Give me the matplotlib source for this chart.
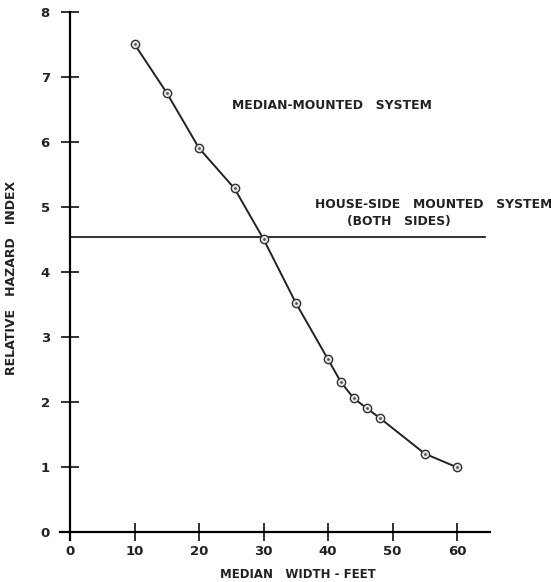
import matplotlib
matplotlib.use("Agg")
import matplotlib.pyplot as plt

# median width (ft) vs relative hazard index, median-mounted system
width_ft = [10, 15, 20, 25.5, 30, 35, 40, 42, 44, 46, 48, 55, 60]
hazard = [7.5, 6.75, 5.9, 5.28, 4.5, 3.52, 2.65, 2.3, 2.05, 1.9, 1.75, 1.2, 0.99]

# house-side mounted system (both sides), constant level
house_side_level = 4.54
house_side_span = [0, 64.3]

x_ticks = [0, 10, 20, 30, 40, 50, 60]
y_ticks = [0, 1, 2, 3, 4, 5, 6, 7, 8]

plt.rcParams['font.family'] = ['DejaVu Sans']

fig = plt.figure(figsize=(5.51, 5.82), dpi=100)
ax = fig.add_axes([0.1083, 0.073, 0.781, 0.907])

ax.plot(width_ft, hazard, color='#222222', lw=1.4, zorder=2)
ax.plot(width_ft, hazard, ls='none', marker='o', ms=6, mfc='#e6e6e6',
        mec='#333333', mew=1.0, zorder=3)
ax.plot(width_ft, hazard, ls='none', marker='o', ms=2, mfc='#555555',
        mec='none', zorder=4)

ax.plot(house_side_span, [house_side_level] * 2, color='#222222', lw=1.3)

ax.set_xlim(-1.6, 65.1)
ax.set_ylim(-0.12, 8.0)

for s in ['top', 'right']:
    ax.spines[s].set_visible(False)
ax.spines['left'].set_position(('data', 0))
ax.spines['bottom'].set_position(('data', 0))
ax.spines['left'].set_linewidth(1.6)
ax.spines['bottom'].set_linewidth(1.6)
ax.spines['left'].set_bounds(-0.12, 8.0)

ax.set_xticks(x_ticks)
ax.set_yticks(y_ticks)
ax.tick_params(axis='both', direction='inout', length=13, width=1.3,
               labelsize=9.5, colors='#222222')
ax.tick_params(axis='x', pad=3)
ax.tick_params(axis='y', pad=8)
for lab in ax.get_xticklabels() + ax.get_yticklabels():
    lab.set_fontweight('bold')

ax.text(25.1, 6.55, "MEDIAN-MOUNTED   SYSTEM", fontsize=8.9, fontweight='bold',
        va='center', ha='left', color='#222222')
ax.text(38.0, 5.04, "HOUSE-SIDE   MOUNTED   SYSTEM", fontsize=8.9,
        fontweight='bold', va='center', ha='left', color='#222222')
ax.text(43.0, 4.77, "(BOTH   SIDES)", fontsize=8.9, fontweight='bold',
        va='center', ha='left', color='#222222')

fig.text(12 / 551, 1 - 278 / 582, "RELATIVE   HAZARD   INDEX", rotation=90,
         fontsize=9, fontweight='bold', ha='center', va='center',
         color='#222222')
fig.text(298 / 551, 1 - 574 / 582, "MEDIAN   WIDTH - FEET", fontsize=8.5,
         fontweight='bold', ha='center', va='center', color='#222222')

fig.savefig("out.png", dpi=100)
